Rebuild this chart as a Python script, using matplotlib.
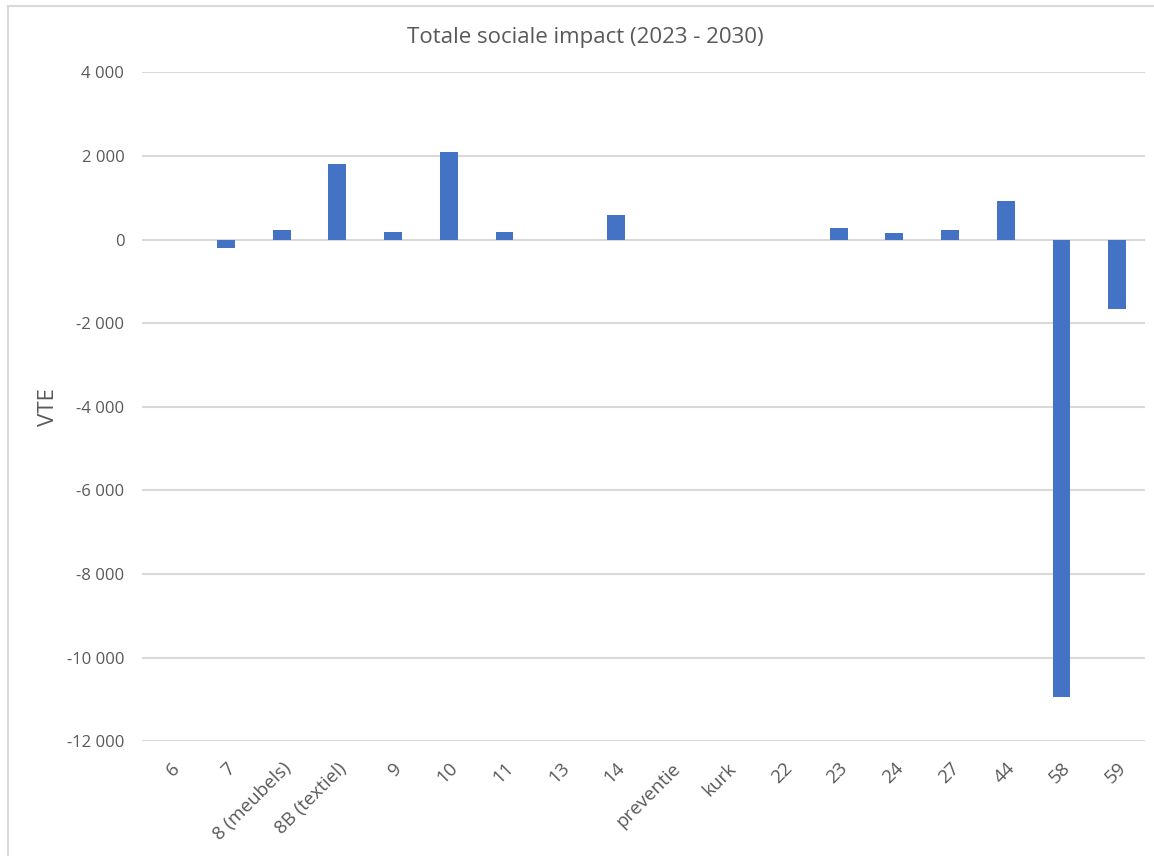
import matplotlib
matplotlib.use('Agg')
import matplotlib.pyplot as plt
from matplotlib.ticker import FuncFormatter
from matplotlib.lines import Line2D

categories = ['6', '7', '8 (meubels)', '8B (textiel)', '9', '10', '11', '13', '14',
              'preventie', 'kurk', '22', '23', '24', '27', '44', '58', '59']
values = [0, -200, 223, 1806, 182, 2086, 180, 0, 583,
          0, 0, 0, 281, 158, 230, 918, -10933, -1655]
y_ticks = [4000, 2000, 0, -2000, -4000, -6000, -8000, -10000, -12000]

plt.rcParams['font.family'] = ['Open Sans', 'DejaVu Sans']
text_color = '#595959'

fig = plt.figure(figsize=(11.54, 8.56), dpi=100)
ax = fig.add_axes([142.4 / 1154, 1 - 741.3 / 856, (1145 - 142.4) / 1154, (741.3 - 72.3) / 856])

x = range(len(categories))
ax.bar(x, values, width=0.32, color='#4472C4', zorder=3)

ax.set_xlim(-0.5, len(categories) - 0.5)
ax.set_ylim(-12000, 4000)
ax.set_yticks(y_ticks)
ax.yaxis.set_major_formatter(FuncFormatter(lambda v, p: f'{int(v):,}'.replace(',', ' ')))
ax.grid(axis='y', color='#d9d9d9', linewidth=1.5, zorder=0)
ax.set_axisbelow(True)
for s in ax.spines.values():
    s.set_visible(False)

ax.set_xticks(list(x))
ax.set_xticklabels(categories, rotation=45, ha='right', va='top', rotation_mode='anchor')
ax.tick_params(axis='x', length=0, pad=13, labelsize=13.5, labelcolor=text_color)
ax.tick_params(axis='y', length=0, pad=13, labelsize=12, labelcolor=text_color)

ax.set_ylabel('VTE', fontsize=16, color=text_color, labelpad=6)
fig.text(585 / 1154, 1 - 37 / 856, 'Totale sociale impact (2023 - 2030)',
         ha='center', va='center', fontsize=16, color=text_color)

# chart area border (top and left edge)
fig.add_artist(Line2D([8 / 1154, 1], [1 - 6 / 856, 1 - 6 / 856], color='#d9d9d9', linewidth=1.5))
fig.add_artist(Line2D([8 / 1154, 8 / 1154], [0, 1 - 6 / 856], color='#d9d9d9', linewidth=1.5))

fig.savefig('out.png', dpi=100)
